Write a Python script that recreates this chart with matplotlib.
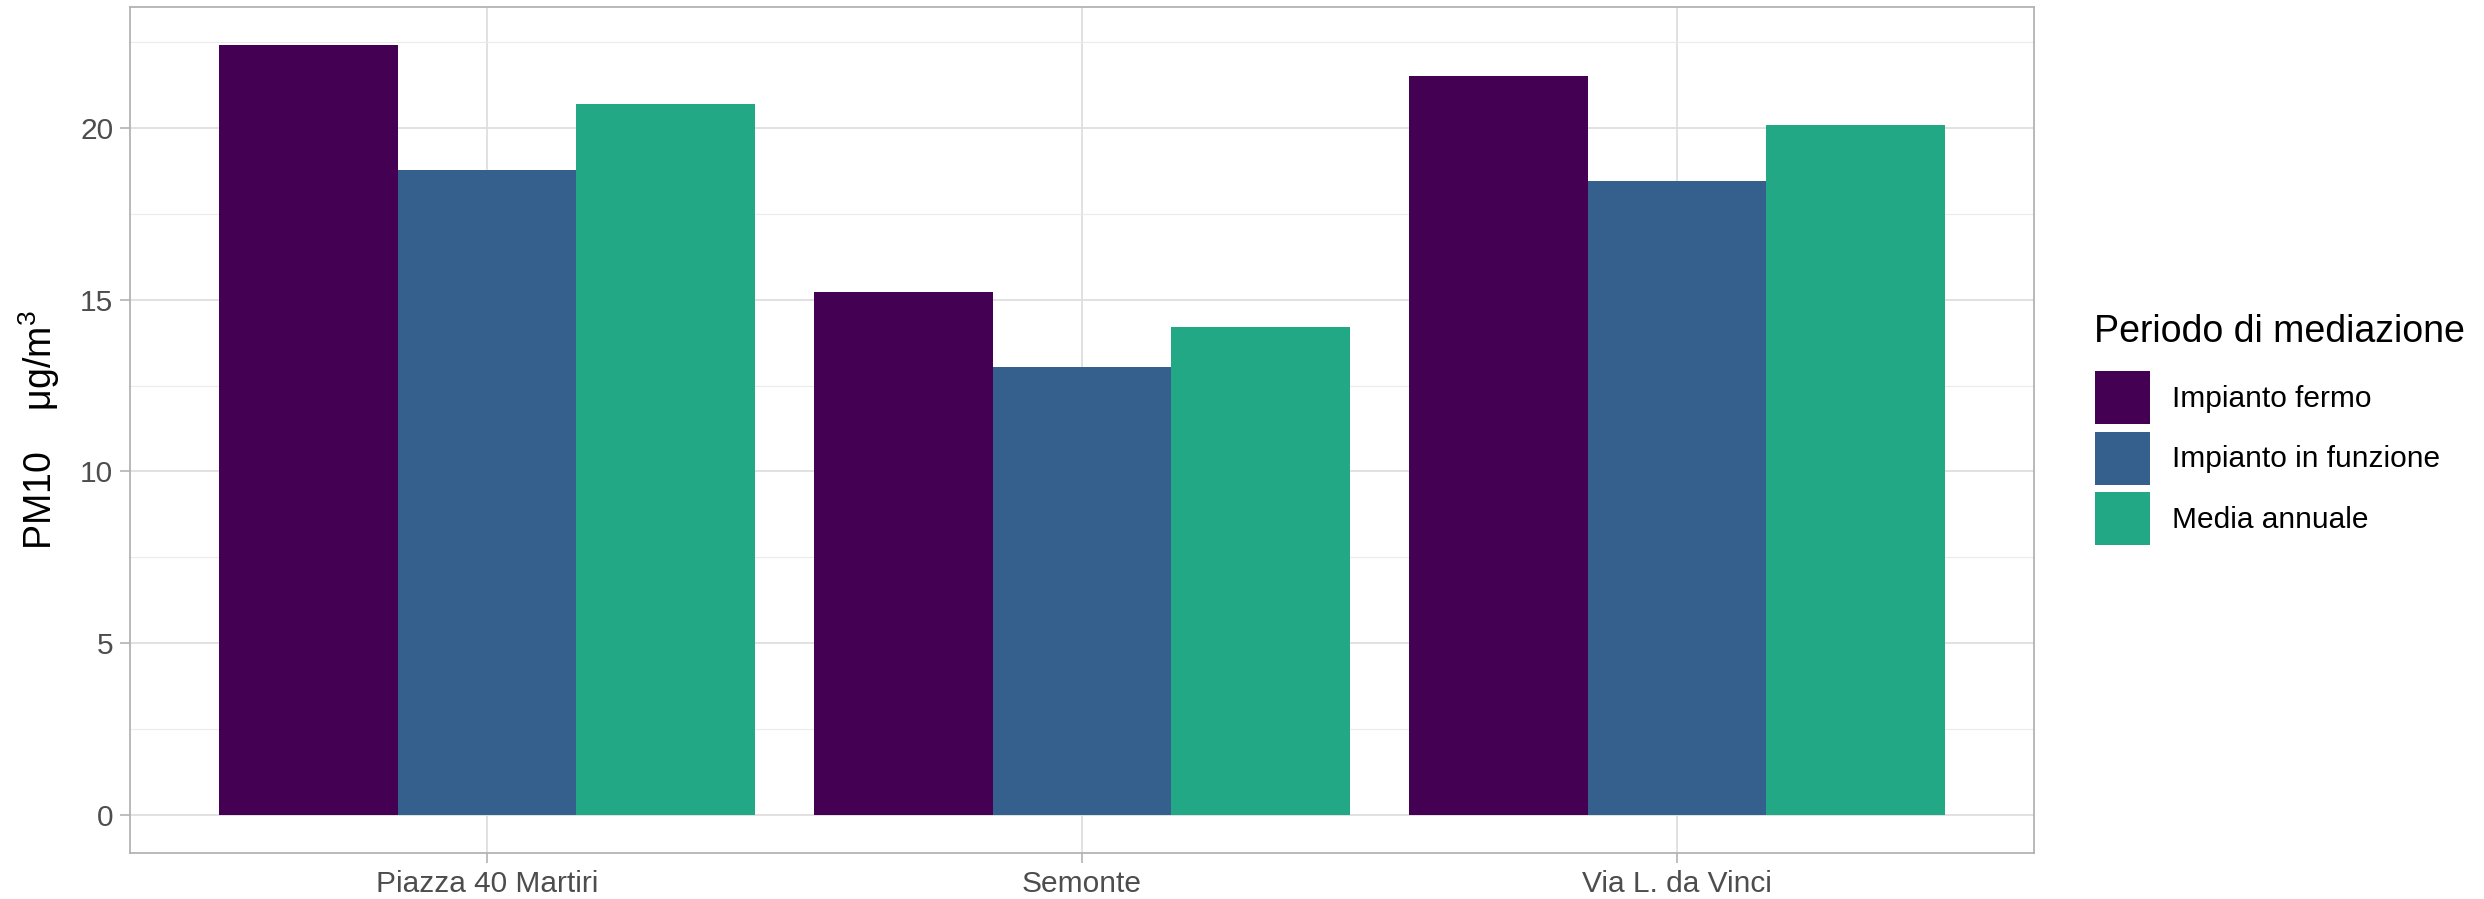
import matplotlib
matplotlib.use("Agg")
import matplotlib.pyplot as plt
import numpy as np
from matplotlib.patches import Patch

plt.rcParams["font.family"] = ["Liberation Sans", "DejaVu Sans"]
plt.rcParams["mathtext.fontset"] = "custom"
plt.rcParams["mathtext.rm"] = "Liberation Sans"
plt.rcParams["mathtext.it"] = "Liberation Sans:italic"

# data
SITES = ["Piazza 40 Martiri", "Semonte", "Via L. da Vinci"]
PERIODS = ["Impianto fermo", "Impianto in funzione", "Media annuale"]
FERMO = [22.41, 15.24, 21.52]
FUNZIONE = [18.78, 13.03, 18.47]
MEDIA = [20.71, 14.22, 20.10]
VALUES = [FERMO, FUNZIONE, MEDIA]
COLORS = ["#440154", "#355F8D", "#22A884"]

W, H = 2484, 899
fig = plt.figure(figsize=(W / 100, H / 100), dpi=100)
ax = fig.add_axes([130 / W, 1 - 853 / H, (2034 - 130) / W, (853 - 7) / H])

x = np.arange(1, len(SITES) + 1)
bw = 0.9 / 3
for i, (vals, c) in enumerate(zip(VALUES, COLORS)):
    ax.bar(x + (i - 1) * bw, vals, width=bw, color=c, edgecolor="none", zorder=3)

ymax = max(max(v) for v in VALUES)
ax.set_xlim(0.4, 3.6)
ax.set_ylim(-0.05 * ymax, 1.05 * ymax)
ax.set_xticks(x)
ax.set_xticklabels(SITES)
ax.set_yticks([0, 5, 10, 15, 20])
ax.set_yticks([2.5, 7.5, 12.5, 17.5, 22.5], minor=True)

ax.grid(True, which="major", color="#DEDEDE", lw=1.3, zorder=0)
ax.grid(True, which="minor", axis="y", color="#EBEBEB", lw=0.8, zorder=0)
ax.tick_params(which="major", length=7, width=1.2, color="#B3B3B3",
               labelsize=21.5, labelcolor="#4D4D4D", pad=5)
ax.tick_params(which="minor", length=0)
for s in ax.spines.values():
    s.set_color("#B3B3B3")
    s.set_linewidth(1.3)

ax.set_ylabel("PM10    μg/m$^{3}$", fontsize=27, color="black", labelpad=13)

# legend
fig.text(2094 / W, 1 - 332 / H, "Periodo di mediazione", fontsize=27,
         ha="left", va="center", color="black")
handles = [Patch(facecolor=c, edgecolor="none") for c in COLORS]
fig.legend(handles, PERIODS, loc="upper left",
           bbox_to_anchor=(2095 / W, 1 - 371 / H), frameon=False,
           fontsize=21.5, handlelength=1.84, handleheight=2.35,
           labelspacing=0.26, handletextpad=0.74, borderpad=0,
           borderaxespad=0)

fig.savefig("out.png", dpi=100, facecolor="white")
